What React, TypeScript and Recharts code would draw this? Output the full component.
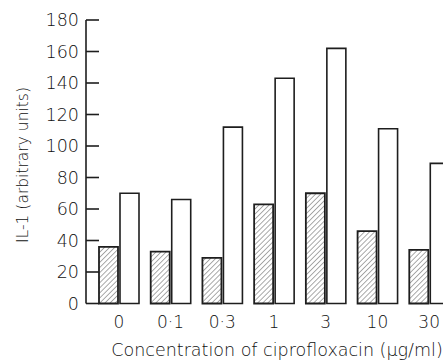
import React from "react";
import { BarChart, Bar, XAxis, YAxis } from "recharts";

// Concentration of ciprofloxacin (µg/ml)
const concentrations = ["0", "0·1", "0·3", "1", "3", "10", "30"];
// IL-1 (arbitrary units)
const hatchedValues = [36, 33, 29, 63, 70, 46, 34];
const openValues = [70, 66, 112, 143, 162, 111, 89];
const yTicks = [0, 20, 40, 60, 80, 100, 120, 140, 160, 180];

const data = concentrations.map((c, i) => ({
  conc: c,
  hatched: hatchedValues[i],
  open: openValues[i],
}));

const FONT = "'DejaVu Sans', sans-serif";
const INK = "#1e1e1e";
const TEXT = "#111";

// tick marks point into the plot, labels sit left of the axis
const YTick = (props: any) => {
  const { x, y, payload } = props;
  return (
    <g>
      <line x1={x} y1={y} x2={x + 13} y2={y} stroke={INK} strokeWidth={1.6} />
      <text
        x={x - 7}
        y={y}
        dy="0.36em"
        textAnchor="end"
        fontFamily={FONT}
        fontWeight={200}
        fontSize={17.5}
        fill={TEXT}
      >
        {payload.value}
      </text>
    </g>
  );
};

const YTitle = () => (
  <text
    x={22}
    y={165}
    dy="0.36em"
    transform="rotate(-90 22 165)"
    textAnchor="middle"
    fontFamily={FONT}
    fontWeight={200}
    fontSize={15.5}
    fill={TEXT}
  >
    IL-1 (arbitrary units)
  </text>
);

export default function App() {
  return (
    <div
      style={{
        position: "absolute",
        left: 0,
        top: 0,
        width: 443,
        height: 360,
        overflow: "hidden",
        background: "#fff",
      }}
    >
      <BarChart
        width={462}
        height={360}
        data={data}
        margin={{ top: 20, right: 0, left: 0, bottom: 0 }}
        barSize={19}
        barGap={2}
      >
        <defs>
          <pattern
            id="hatch"
            width="3.6"
            height="3.6"
            patternUnits="userSpaceOnUse"
            patternTransform="rotate(45)"
          >
            <rect width="3.6" height="3.6" fill="#fff" />
            <line x1="0" y1="0" x2="0" y2="3.6" stroke="#555" strokeWidth="1" />
          </pattern>
        </defs>
        <XAxis
          dataKey="conc"
          axisLine={false}
          tickLine={false}
          tickSize={0}
          tickMargin={12}
          height={56.5}
          padding={{ left: 7, right: 7 }}
          interval={0}
          tick={{ fontFamily: FONT, fontWeight: 200, fontSize: 17, fill: TEXT }}
          label={{
            value: "Concentration of ciprofloxacin (\u03bcg/ml)",
            position: "insideBottom",
            offset: 4,
            dx: 3,
            fontFamily: FONT,
            fontWeight: 200,
            fontSize: 17.5,
            fill: TEXT,
          }}
        />
        <YAxis
          width={86}
          domain={[0, 180]}
          ticks={yTicks}
          interval={0}
          tickLine={false}
          tickSize={0}
          tickMargin={0}
          axisLine={{ stroke: INK, strokeWidth: 1.6 }}
          tick={<YTick />}
          label={{ content: () => <YTitle /> }}
        />
        <Bar
          dataKey="hatched"
          fill="url(#hatch)"
          stroke={INK}
          strokeWidth={1.8}
          isAnimationActive={false}
        />
        <Bar
          dataKey="open"
          fill="#fff"
          stroke={INK}
          strokeWidth={1.6}
          isAnimationActive={false}
        />
      </BarChart>
    </div>
  );
}
